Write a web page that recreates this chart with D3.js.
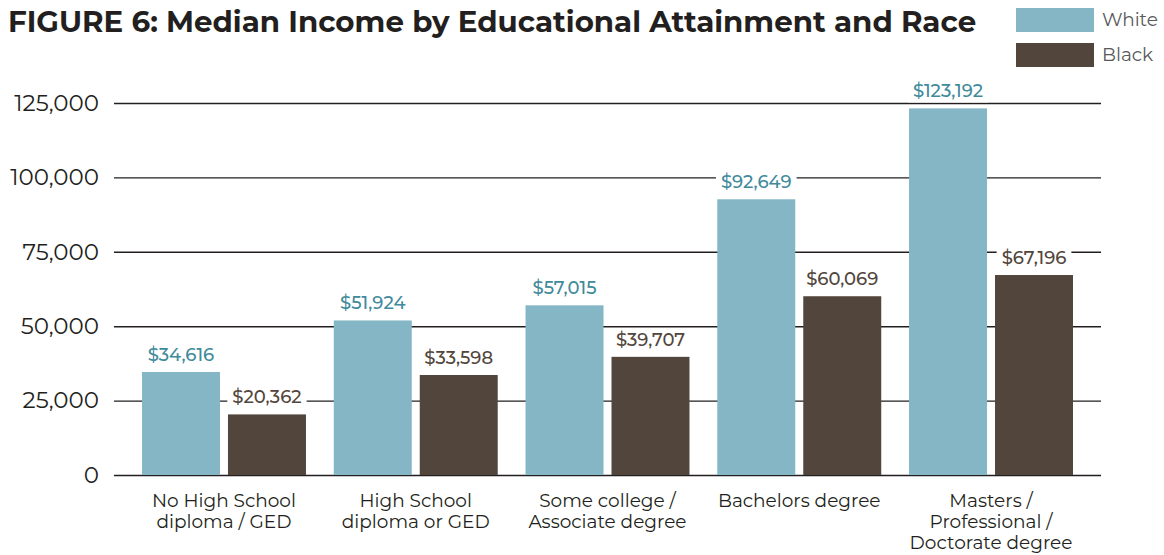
<!DOCTYPE html>
<html>
<head>
<meta charset="utf-8">
<script src="https://cdn.jsdelivr.net/npm/d3@7"></script>
<style>
  body { margin: 0; background: #fff; }
  svg text { font-family: "Montserrat", "Noto Sans", "Open Sans", sans-serif; }
</style>
</head>
<body>
<svg id="chart" width="1164" height="555"></svg>
<script>
// Median income by education and race

var categories = [
  ["No High School", "diploma / GED"],
  ["High School", "diploma or GED"],
  ["Some college /", "Associate degree"],
  ["Bachelors degree"],
  ["Masters /", "Professional /", "Doctorate degree"]
];
var series = ["White", "Black"];
var whiteValues = [34616, 51924, 57015, 92649, 123192];
var blackValues = [20362, 33598, 39707, 60069, 67196];
var yTicks = [0, 25000, 50000, 75000, 100000, 125000];

var colors = { White: "#84b6c5", Black: "#52453b" };
var labelColors = { White: "#3f8a9b", Black: "#52453b" };

var svg = d3.select("#chart");

var x0 = d3.scaleBand().domain(d3.range(categories.length))
  .range([142, 1073]).paddingInner(0.145).paddingOuter(0);
var x1 = d3.scaleBand().domain(series)
  .range([0, x0.bandwidth()]).paddingInner(0.093);
var y = d3.scaleLinear().domain([0, 125000]).range([475, 103]);

// title
svg.append("text")
  .attr("x", 8).attr("y", 32)
  .attr("font-size", 29.3).attr("font-weight", 700)
  .attr("fill", "#231f20")
  .text("FIGURE 6: Median Income by Educational Attainment and Race");

// legend
series.forEach(function (s, i) {
  svg.append("rect")
    .attr("x", 1016).attr("y", 8 + i * 35)
    .attr("width", 78).attr("height", 24)
    .attr("fill", colors[s]);
  svg.append("text")
    .attr("x", 1102).attr("y", 26 + i * 35)
    .attr("font-size", 18.5).attr("fill", "#58595b")
    .text(s);
});

// gridlines + y labels
var yAxis = svg.append("g").attr("transform", "translate(114,0)")
  .call(d3.axisLeft(y).tickValues(yTicks).tickSize(-987).tickPadding(15)
    .tickFormat(d3.format(",")));
yAxis.select(".domain").remove();
yAxis.selectAll(".tick line").attr("stroke", "#231f20").attr("stroke-width", 1.4);
yAxis.selectAll(".tick text")
  .attr("font-size", 23).attr("fill", "#231f20")
  .attr("font-family", "Montserrat, 'Noto Sans', sans-serif");

// bars
var rows = categories.map(function (c, i) {
  return [{ s: "White", v: whiteValues[i] }, { s: "Black", v: blackValues[i] }];
});

var groups = svg.selectAll(".grp").data(rows).enter().append("g")
  .attr("class", "grp")
  .attr("transform", function (d, i) { return "translate(" + x0(i) + ",0)"; });

groups.selectAll("rect").data(function (d) { return d; }).enter().append("rect")
  .attr("x", function (d) { return x1(d.s); })
  .attr("y", function (d) { return y(d.v); })
  .attr("width", x1.bandwidth())
  .attr("height", function (d) { return y(0) - y(d.v); })
  .attr("fill", function (d) { return colors[d.s]; });

// value labels with white backing
var fmt = d3.format("$,");
groups.selectAll(".val").data(function (d) { return d; }).enter().append("g")
  .attr("class", "val")
  .each(function (d) {
    var g = d3.select(this);
    var cx = x1(d.s) + x1.bandwidth() / 2;
    var t = g.append("text")
      .attr("x", cx).attr("y", y(d.v) - 11)
      .attr("text-anchor", "middle")
      .attr("font-size", 18).attr("font-weight", 500)
      .attr("fill", labelColors[d.s])
      .text(fmt(d.v));
    var bb = t.node().getBBox();
    g.insert("rect", "text")
      .attr("x", bb.x - 5).attr("y", bb.y)
      .attr("width", bb.width + 10).attr("height", bb.height)
      .attr("fill", "#fff");
  });

// category labels
groups.append("text")
  .attr("text-anchor", "middle")
  .attr("font-size", 18.5).attr("fill", "#231f20")
  .each(function (d, i) {
    var t = d3.select(this);
    categories[i].forEach(function (line, j) {
      t.append("tspan")
        .attr("x", x0.bandwidth() / 2)
        .attr("y", 507 + j * 21)
        .text(line);
    });
  });
</script>
</body>
</html>
